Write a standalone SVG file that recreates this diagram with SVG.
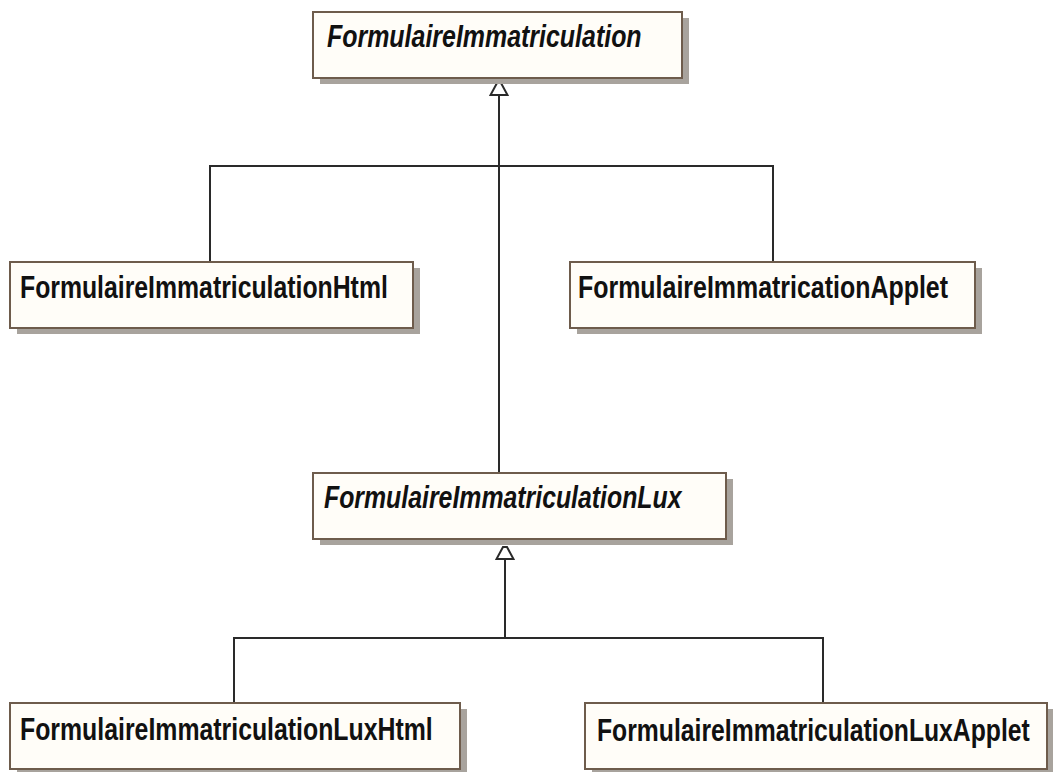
<svg xmlns="http://www.w3.org/2000/svg" width="1053" height="773" viewBox="0 0 1053 773">
  <style>
    .shadow { fill: #a8a39d; }
    .box { fill: #fffdf8; stroke: #6e5c4c; stroke-width: 2; }
    .name { font-family: "Liberation Sans", Arial, sans-serif; font-weight: bold; font-size: 31px; fill: #111; }
    .abstract { font-style: italic; }
    .link { fill: none; stroke: #2a2a2a; stroke-width: 2; }
  </style>
  <defs>
    <!-- hollow generalisation head, slightly blunted tip -->
    <marker id="inherit" viewBox="-14 -10 16 20" refX="-12" refY="0" markerWidth="16" markerHeight="20" markerUnits="userSpaceOnUse" orient="auto">
      <polygon points="0,-2 0,2 -12,8.5 -12,-8.5" fill="#ffffff" stroke="#2a2a2a" stroke-width="2" stroke-linejoin="miter"/>
    </marker>
  </defs>
  <rect width="1053" height="773" fill="#ffffff"/>

  <g id="connectors">
    <!-- FormulaireImmatriculation hierarchy -->
    <path class="link" d="M210,262 V166 H773 V262"/>
    <path class="link" d="M499,473 V95" marker-end="url(#inherit)"/>
    <!-- FormulaireImmatriculationLux hierarchy -->
    <path class="link" d="M234,703 V638 H823 V703"/>
    <path class="link" d="M505,638 V559" marker-end="url(#inherit)"/>
  </g>

  <!-- class names use a condensed bold face: horizontal scale 0.8 -->
  <g id="FormulaireImmatriculation">
    <rect class="shadow" x="320" y="18" width="369" height="66"/>
    <rect class="box" x="313" y="12" width="369" height="66"/>
    <text class="name abstract" transform="translate(327,47) scale(0.805,1)">FormulaireImmatriculation</text>
  </g>

  <g id="FormulaireImmatriculationHtml">
    <rect class="shadow" x="17" y="268" width="403" height="66"/>
    <rect class="box" x="10" y="262" width="403" height="66"/>
    <text class="name" transform="translate(20,298) scale(0.8,1)">FormulaireImmatriculationHtml</text>
  </g>

  <g id="FormulaireImmatricationApplet">
    <rect class="shadow" x="577" y="268" width="405" height="66"/>
    <rect class="box" x="570" y="262" width="405" height="66"/>
    <text class="name" transform="translate(578,298) scale(0.805,1)">FormulaireImmatricationApplet</text>
  </g>

  <g id="FormulaireImmatriculationLux">
    <rect class="shadow" x="320" y="479" width="413" height="66"/>
    <rect class="box" x="313" y="473" width="413" height="66"/>
    <text class="name abstract" transform="translate(324,508) scale(0.802,1)">FormulaireImmatriculationLux</text>
  </g>

  <g id="FormulaireImmatriculationLuxHtml">
    <rect class="shadow" x="17" y="709" width="450" height="63"/>
    <rect class="box" x="10" y="703" width="450" height="66"/>
    <text class="name" transform="translate(20,740) scale(0.802,1)">FormulaireImmatriculationLuxHtml</text>
  </g>

  <g id="FormulaireImmatriculationLuxApplet">
    <rect class="shadow" x="592" y="709" width="461" height="63"/>
    <rect class="box" x="585" y="703" width="462" height="66"/>
    <text class="name" transform="translate(597,741) scale(0.798,1)">FormulaireImmatriculationLuxApplet</text>
  </g>
</svg>
